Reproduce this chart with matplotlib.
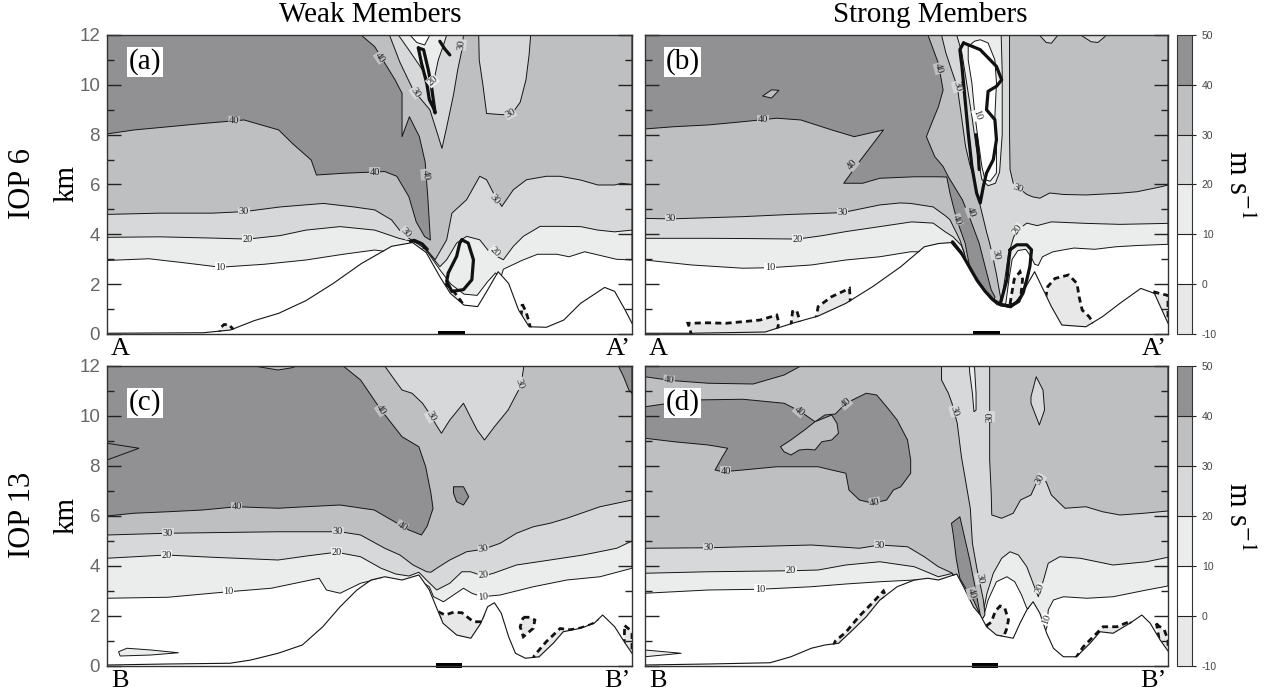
import matplotlib
matplotlib.use("Agg")
import matplotlib.pyplot as plt
import matplotlib as mpl
from matplotlib.patches import Polygon, Rectangle
from matplotlib.colors import ListedColormap, BoundaryNorm

plt.rcParams['font.family'] = ['Liberation Serif', 'DejaVu Serif']
plt.rcParams['mathtext.fontset'] = 'stix'
plt.rcParams['axes.unicode_minus'] = False

# ---------------- colour bands (m s-1) ----------------
LEVELS = [-10, 0, 10, 20, 30, 40, 50]
BAND_COLORS = ['#e8e8e8', '#ffffff', '#ebecec', '#d7d8d9', '#bebfc1', '#919194']
Y_TICKS = [0, 2, 4, 6, 8, 10, 12]
Y_TICK_LABELS = ['0', '2', '4', '6', '8', '10', '12']
Y_MINOR = [1, 3, 5, 7, 9, 11]
COL_TITLES = ['Weak Members', 'Strong Members']
ROW_TITLES = ['IOP 6', 'IOP 13']

# ================= panel (a) : IOP 6 weak =================
A_TERRAIN_X = [0, 18.3, 23.5, 28.1, 32.7, 37.9, 43.1, 48.4, 54.2, 58.2, 60.8, 63.4, 65.4, 68.0, 70.6,
               72.5, 74.5, 76.5, 78.4, 80.4, 83.7, 87.0, 90.2, 94.8, 96.7, 98.7, 100]
A_TERRAIN_Z = [0.03, 0.05, 0.16, 0.54, 0.83, 1.34, 2.03, 2.82, 3.52, 3.67, 3.27, 2.30, 1.63, 1.16, 1.10,
               1.77, 2.50, 2.03, 0.96, 0.29, 0.27, 0.56, 1.23, 1.87, 1.71, 0.96, 0.43]
A_GE10 = [(0, 2.95), (8, 3.02), (15, 2.85), (21.6, 2.68), (30, 2.8), (37.9, 2.97), (45, 3.2), (51, 3.37),
          (53.5, 3.3), (57, 3.35), (59.5, 3.35), (60.5, 3.45), (62, 3.0), (63.5, 2.55), (65.5, 2.0),
          (68, 1.6), (70.5, 1.55), (72.5, 2.1), (74, 2.45), (75, 2.25), (75.5, 2.6), (77, 2.75),
          (79, 2.95), (82, 3.2), (85.7, 3.2), (88, 3.1), (91, 3.3), (94, 3.15), (97, 3.0), (100, 2.97),
          (100, 12), (0, 12)]
A_GE20 = [(0, 3.88), (10, 3.9), (20, 3.85), (26.8, 3.81), (33, 3.95), (37.9, 4.17), (44.4, 4.31),
          (51, 4.17), (55.6, 3.84), (58, 3.72), (59.5, 3.62), (61.5, 3.2), (63.4, 2.7), (64.7, 2.98),
          (66.6, 3.65), (68.5, 3.92), (71.0, 3.78), (73.0, 3.25), (75.5, 2.98), (77.4, 3.52),
          (79.3, 3.92), (82.5, 4.32), (86.3, 4.32), (90.2, 4.31), (93.5, 4.17), (96.7, 4.1),
          (100, 4.17), (100, 12), (0, 12)]
A_GE30 = [(0, 4.8), (10, 4.85), (20, 4.85), (26.1, 4.91), (33, 5.1), (41.2, 5.24), (47, 5.1), (51, 4.98),
          (54.2, 4.58), (56.2, 4.04), (57.5, 3.84), (58.3, 3.74), (60.9, 3.38), (62.5, 2.98),
          (64.7, 3.78), (65.7, 4.85), (68.5, 5.39), (71.0, 6.33), (72.3, 6.19), (73.6, 5.66),
          (75.2, 5.12), (77.4, 5.79), (79.9, 6.19), (83.7, 6.33), (86.3, 6.33), (90.2, 6.18),
          (93.5, 5.98), (96.7, 5.98), (98, 6.05), (100, 6.0), (100, 12), (0, 12)]
A_GE40 = [(0, 12), (48.4, 12), (51, 11.53), (54.9, 10.19), (56.2, 9.66), (56.2, 7.92), (57.6, 8.72),
          (59.5, 7.92), (60.6, 6.9), (61.1, 5.51), (61.6, 3.77), (60.5, 3.91), (58.9, 4.5), (57.5, 5.51),
          (55.2, 6.33), (52.9, 6.52), (45, 6.45), (39.9, 6.38), (38.9, 6.98), (35.3, 7.65), (32.7, 8.19),
          (26.1, 8.59), (18.3, 8.45), (11.8, 8.32), (5.2, 8.19), (0, 8.03)]
A_UPPER_V = [(53.8, 12), (55.8, 10.9), (58.3, 9.8), (61.5, 9.0), (63.0, 8.0), (63.8, 7.45), (64.7, 8.3),
             (66.0, 9.6), (66.8, 10.6), (67.6, 11.4), (67.9, 12)]
A_UPPER_20 = [(55.5, 12), (57.5, 11.4), (60.1, 10.6), (61.4, 10.06), (62.4, 10.3), (63.1, 11.0),
              (64.1, 11.6), (64.7, 12)]
A_UPPER_10 = [(57.7, 12), (59, 11.7), (60.5, 11.6), (61.5, 12)]
A_RIGHT_V = [(70.8, 12), (70.9, 11.0), (71.6, 10.0), (72.3, 8.85), (75.5, 8.8), (77.5, 8.95), (78.7, 9.3),
             (79.8, 10.2), (80.4, 11.2), (80.7, 12)]
A_NEG = [
    [(21.4, -0.1), (21.6, 0.25), (22.3, 0.38), (23.2, 0.38), (24.0, 0.2), (24.2, -0.1)],
    [(64.3, 2.0), (65.5, 1.85), (67.0, 1.45), (67.8, 1.2), (67.5, 0.8), (64.5, 1.4)],
    [(79.1, 1.2), (79.8, 0.9), (80.3, 0.55), (80.7, 0.2), (80.5, 0.0), (78.8, 0.6)],
]
A_THICK = [
    [(59.3, 11.48), (60.3, 11.41), (61.2, 10.6), (61.8, 9.94), (62.5, 8.87), (62.2, 9.07), (61.4, 9.4),
     (60.9, 10.07), (59.9, 10.87), (59.3, 11.48)],
    [(63.4, 11.75), (64.3, 11.45), (65.3, 11.2)],
    [(67.6, 3.78), (68.8, 3.65), (69.8, 2.98), (69.5, 2.18), (67.9, 1.78), (65.7, 1.71), (64.7, 2.11),
     (65.0, 2.45), (66.6, 3.12), (67.2, 3.65), (67.6, 3.78)],
    [(57.8, 3.72), (58.5, 3.76), (60.0, 3.62), (61.0, 3.4)],
]
A_LABELS = [(24.2, 8.55, '40', -2), (51, 6.5, '40', 0), (52, 11.1, '40', -55), (60.7, 6.4, '40', -85),
            (26.1, 4.91, '30', 0), (56.9, 4.06, '30', -45), (58.8, 9.7, '30', -55), (67.5, 11.6, '30', 85),
            (76.8, 8.85, '30', 30), (73.9, 5.4, '30', -50),
            (26.8, 3.81, '20', 0), (62.0, 10.15, '20', 40), (73.9, 3.3, '20', -45),
            (21.6, 2.68, '10', 0)]
A_BAR = (63.1, 68.1)

# ================= panel (b) : IOP 6 strong =================
B_TERRAIN_X = [0, 9, 23, 25.2, 28.5, 33.1, 38.4, 43.6, 48.9, 53.4, 56.1, 58.5, 61.3, 64, 65.9, 67.3, 70,
               72, 74.5, 77.7, 79.7, 84.3, 87.5, 90.8, 94.8, 97.4, 100]
B_TERRAIN_Z = [0.03, 0.03, 0.08, 0.23, 0.45, 0.72, 1.23, 1.91, 2.7, 3.5, 3.63, 3.67, 2.98, 2.05, 1.45,
               1.18, 1.05, 1.6, 2.5, 1.1, 0.36, 0.29, 0.7, 1.23, 1.83, 1.63, 0.43]
B_GE10 = [(0, 2.97), (8.9, 2.77), (18.7, 2.64), (23.9, 2.66), (31.8, 2.77), (38.4, 2.97), (44.9, 3.1),
          (50.8, 3.3), (52.5, 3.3), (56, 3.4), (58.5, 3.45), (61.3, 2.8), (64, 1.85), (67.3, 1.0),
          (68.6, 1.0), (69.0, 1.25), (69.6, 2.2), (70.2, 3.0), (71.3, 3.35), (72.8, 3.4), (73.8, 3.1),
          (74.5, 2.8), (75.2, 2.75), (76, 3.1), (78, 3.3), (82, 3.45), (86, 3.4), (90, 3.5), (94, 3.55),
          (100, 3.6), (100, 12), (0, 12)]
B_GE20 = [(0, 3.84), (12, 3.84), (20, 3.83), (29.2, 3.81), (34, 3.95), (38.4, 4.11), (44.9, 4.31),
          (51, 4.5), (55.1, 4.45), (57.4, 4.1), (58.9, 3.9), (60.5, 3.55), (61.3, 3.1), (62, 2.5),
          (64, 1.85), (67.3, 1.0), (68.0, 1.0), (68.2, 1.4), (68.8, 2.2), (69.5, 3.2), (70.5, 3.9),
          (71.4, 4.19), (73, 4.45), (75, 4.35), (77.7, 4.5), (84.3, 4.44), (90.8, 4.4), (100, 4.44),
          (100, 12), (0, 12)]
B_GE30_L = [(0, 4.64), (4.9, 4.62), (18.7, 4.71), (28, 4.8), (37.7, 4.87), (44.9, 5.18), (48.8, 5.26),
            (50.8, 5.24), (55.1, 5.1), (57.4, 4.75), (58.3, 4.59), (60.2, 3.78), (61, 3.3), (61.5, 2.85),
            (62, 2.5), (64, 1.8), (66, 1.2), (67.6, 1.0), (68, 1.45), (67.7, 1.8), (67.2, 2.4),
            (66.6, 3.0), (65.9, 3.64), (65.3, 4.1), (64.6, 4.71), (63.8, 5.4), (63.0, 6.18), (62.1, 6.8),
            (61.3, 7.52), (60.4, 8.9), (59.7, 9.93), (58.6, 10.6), (57.5, 11.3), (56.7, 12), (0, 12)]
B_GE30_R = [(69.7, 12), (69.7, 8), (69.8, 6.6), (70.4, 6.06), (71.5, 5.85), (73, 5.6), (74.2, 5.5),
            (75.5, 5.45), (77.4, 5.66), (80, 5.6), (84.3, 5.58), (90.8, 5.65), (94.1, 5.71),
            (98.7, 5.91), (100, 5.98), (100, 12)]
B_GE40 = [(0, 12), (54.1, 12), (56.1, 10.86), (57.0, 9.79), (56.1, 9.12), (54.8, 8.45), (53.8, 7.92),
          (55.4, 7.12), (57.0, 6.72), (58.0, 6.31), (60.7, 5.38), (62.0, 4.71), (63.9, 3.64),
          (65.2, 2.57), (66.2, 1.77), (66.9, 1.5), (66.6, 1.1), (64, 1.75), (62.3, 2.45), (61.2, 3.65),
          (59.6, 4.59), (58.3, 5.66), (57.7, 6.3), (56.1, 6.31), (51.5, 6.31), (44.9, 6.25),
          (41.6, 6.05), (38.0, 6.05), (41.0, 6.92), (45.6, 8.19), (40, 7.92), (35.7, 8.19),
          (29.8, 8.59), (25.2, 8.66), (18.7, 8.52), (12.1, 8.39), (5.6, 8.32), (0, 8.23)]
B_SLIVER = [(22.5, 9.55), (24.2, 9.8), (25.6, 9.78), (24.2, 9.47)]
B_COL_20 = [(59.6, 12), (60.6, 11.28), (61.5, 10.07), (62.5, 8.74), (63.4, 7.4), (64.4, 6.2), (65.6, 5.95),
            (67.0, 6.05), (67.8, 6.5), (68.3, 8), (68.3, 10.5), (68.1, 12)]
B_COL_10 = [(61.8, 11.54), (63.0, 11.75), (64.1, 11.81), (65.6, 11.68), (66.9, 11.0), (67.2, 10.07),
            (66.9, 8.74), (67.2, 7.4), (67.2, 6.46), (66.0, 6.13), (65.0, 6.2), (64.4, 6.73), (63.7, 7.8),
            (63.1, 8.74), (62.5, 10.07), (61.8, 11.0)]
B_BUMP_1 = [(75.4, 12), (76.7, 11.7), (77.7, 11.67), (78.7, 11.93), (79, 12)]
B_BUMP_2 = [(83.3, 12), (85.3, 11.73), (86.6, 11.7), (87.9, 11.93), (88.2, 12)]
B_NEG = [
    [(8.9, -0.1), (8.6, 0.2), (8.2, 0.43), (12, 0.45), (15.4, 0.43), (19, 0.5), (22, 0.56), (25.2, 0.76),
     (25.6, 0.45), (25.2, 0.1), (25, -0.1)],
    [(27.9, 0.3), (28.2, 0.9), (29, 0.95), (29.5, 0.6), (29.7, 0.3)],
    [(32.6, 0.5), (33.1, 1.1), (35.7, 1.5), (39.1, 1.83), (39.3, 1.2), (38.5, 0.9)],
    [(69.8, 1.2), (70.1, 1.6), (70.6, 2.2), (71.7, 2.5), (72.2, 2.2), (71.8, 1.4), (71, 1.1)],
    [(76.6, 1.45), (77, 1.9), (78.4, 2.23), (81, 2.37), (82.6, 2.03), (83, 1.5), (83.6, 0.96),
     (84.9, 0.7), (85.7, 0.45), (85.8, 0.1), (77.5, 0.1)],
    [(97.2, 1.7), (98.5, 1.62), (100, 1.55), (100, 0.2), (98, 1.0)],
]
B_THICK = [
    [(60.9, 11.68), (62.5, 11.55), (64.1, 11.41), (67.2, 10.74), (68.2, 10.2), (67.2, 9.94), (65.6, 9.74),
     (65.3, 9.0), (66.9, 8.6), (67.2, 7.8), (66.6, 7.0), (65.3, 6.46), (64.7, 5.93), (64.1, 5.26),
     (63.4, 5.66), (62.5, 6.73), (61.8, 8.07), (61.2, 9.4), (60.6, 10.74), (60.2, 11.41), (60.9, 11.68)],
    [(63.3, 8.0), (63.7, 7.3), (63.9, 6.6)],
    [(69.8, 3.38), (71.1, 3.58), (73.0, 3.58), (73.9, 3.38), (73.6, 2.72), (73.0, 2.18), (72.3, 1.65),
     (71.4, 1.31), (69.8, 1.11), (67.9, 1.18), (69.2, 2.18), (69.5, 2.85), (69.8, 3.38)],
    [(58.8, 3.7), (60.5, 3.25), (62, 2.7), (63.5, 2.15), (65, 1.72), (66.5, 1.38), (68, 1.18), (70, 1.12),
     (71.5, 1.32)],
]
B_LABELS = [(22.6, 8.59, '40', 0), (39.7, 6.8, '40', 50), (56.2, 10.66, '40', -75),
            (4.9, 4.62, '30', 0), (37.7, 4.87, '30', 0), (59.7, 9.93, '30', -75),
            (59.7, 4.58, '40', -70), (62.3, 4.91, '40', -70), (67.0, 3.2, '30', -80),
            (63.6, 8.79, '10', -70), (71.3, 5.85, '30', -20), (71.2, 4.2, '20', 55),
            (29.2, 3.81, '20', 0), (23.9, 2.66, '10', 0)]
B_BAR = (62.8, 67.8)

# ================= panel (c) : IOP 13 weak =================
C_TERRAIN_X = [0, 11.6, 23.4, 27.4, 32.6, 37.2, 41.1, 44.4, 47.6, 50.3, 52.9, 56.2, 59.4, 61.4, 62.7, 64.0,
               66.6, 69.3, 71.2, 72.5, 73.8, 75.1, 76.5, 77.8, 79.7, 82.3, 85.0, 86.9, 90.2, 92.8, 94.4,
               96.7, 98.7, 100]
C_TERRAIN_Z = [0.04, 0.08, 0.11, 0.24, 0.51, 0.84, 1.57, 2.37, 3.04, 3.44, 3.57, 3.44, 3.64, 3.04, 2.37,
               1.71, 1.24, 1.11, 1.71, 2.37, 2.53, 2.11, 1.17, 0.51, 0.31, 0.37, 0.91, 1.37, 1.51, 1.71,
               2.04, 1.57, 0.91, 0.51]
C_GE10 = [(0, 2.71), (11.6, 2.75), (23.1, 2.97), (31.3, 3.11), (40.4, 3.51), (41.8, 3.04), (44.4, 2.91),
          (48.3, 3.31), (52.2, 3.51), (53.5, 3.45), (56.2, 3.3), (59.4, 3.45), (60.4, 3.3), (61.4, 3.17),
          (62.2, 2.77), (64.1, 2.57), (66.0, 2.84), (67.9, 3.11), (69.5, 2.91), (71.4, 2.77),
          (74.9, 2.84), (81.2, 3.17), (87.6, 3.44), (93.9, 3.57), (100, 3.91), (100, 12), (0, 12)]
C_GE20 = [(0, 4.31), (11.3, 4.44), (20, 4.35), (32.6, 4.24), (38, 4.4), (43.7, 4.55), (48.3, 4.37),
          (52.2, 3.91), (55, 3.68), (57.5, 3.6), (59.4, 3.75), (60.8, 3.45), (62.8, 3.04), (65.3, 3.31),
          (67.6, 3.77), (69.2, 3.77), (71.7, 3.6), (73.6, 3.71), (78.0, 4.04), (84.4, 4.24),
          (90.7, 4.44), (97.1, 4.71), (100, 5.0), (100, 12), (0, 12)]
C_GE30 = [(0, 5.24), (11.6, 5.31), (32.6, 5.37), (44.4, 5.37), (48.3, 5.24), (52.9, 4.71), (55.8, 4.44),
          (58.3, 4.04), (60.9, 3.77), (61.7, 3.75), (62.8, 3.91), (65.3, 4.24), (68.5, 4.57),
          (71.7, 4.67), (74.9, 4.91), (78.0, 5.31), (81.2, 5.57), (84.4, 5.71), (87.6, 5.91),
          (93.9, 6.37), (100, 6.64), (100, 12), (0, 12)]
C_GE40 = [(0, 12), (28, 12), (32.6, 11.84), (35.2, 11.93), (36.2, 12), (45.0, 12), (48.3, 11.44),
          (52.2, 10.24), (56.2, 9.17), (59.4, 8.77), (60.7, 7.97), (61.7, 6.91), (62.1, 6.3),
          (61.0, 5.6), (59.9, 5.24), (57.5, 5.44), (54.2, 5.84), (50.9, 6.24), (44.4, 6.44),
          (37.8, 6.37), (32.6, 6.31), (24.7, 6.37), (18.2, 6.24), (11.6, 6.17), (5.1, 6.11), (0, 6.0)]
C_UPPER_V = [(52.9, 12), (54.8, 11.44), (56.2, 11.04), (58.1, 10.91), (60.1, 10.51), (61.4, 10.11),
             (62.7, 9.64), (63.7, 9.31), (65.3, 9.84), (67.9, 10.51), (69.2, 9.97), (70.5, 9.44),
             (71.9, 9.04), (73.8, 9.57), (76.4, 10.24), (78.4, 11.04), (79.1, 11.57), (79.4, 12)]
C_BLOB = [(66.0, 7.17), (67.9, 7.17), (68.9, 6.77), (67.9, 6.44), (66.6, 6.57), (66.0, 6.91)]
C_CORNER = [(97.4, 12), (98.4, 11.57), (99.4, 11.04), (100, 10.9), (100, 12)]
C_WEDGE = [(0, 8.91), (6.1, 8.71), (0, 8.24)]
C_LENS = [(2.2, 0.57), (3.8, 0.71), (8.4, 0.64), (13.6, 0.53), (8.4, 0.44), (2.5, 0.4)]
C_NEG = [
    [(63.1, 2.17), (64.4, 2.04), (66.0, 2.15), (67.6, 2.13), (69.8, 1.77), (71.7, 1.77), (72.3, 2.1),
     (72.5, 1.6), (69, 0.9), (64, 1.5)],
    [(79.3, 1.95), (80.5, 1.95), (81.5, 1.84), (81.2, 1.51), (79.3, 1.17), (78.7, 1.57)],
    [(81.0, 0.2), (81.4, 0.42), (83.7, 0.98), (86.3, 1.5), (88.2, 1.45), (90.2, 1.52), (92.1, 1.65),
     (93.5, 1.8), (93.7, 1.6), (90, 1.2), (84, 0.4)],
    [(98.6, 1.62), (99.3, 1.5), (100, 1.3), (100, 0.3), (98.5, 0.8)],
]
C_LABELS = [(24.7, 6.37, '40', 0), (52.2, 10.24, '40', -55), (56.2, 5.6, '40', -30),
            (11.6, 5.31, '30', 0), (44.0, 5.37, '30', 0), (61.7, 9.98, '30', -60), (78.6, 11.3, '30', -70),
            (71.7, 4.67, '30', 8),
            (11.3, 4.44, '20', 0), (43.7, 4.55, '20', 0), (71.7, 3.62, '20', 5),
            (23.1, 2.97, '10', 0), (71.6, 2.77, '10', 5)]
C_BAR = (62.6, 67.6)

# ================= panel (d) : IOP 13 strong =================
D_TERRAIN_X = [0, 12.1, 23.9, 27.9, 31.8, 34.4, 37.0, 39.7, 42.3, 44.9, 48.2, 51.5, 54.1, 56.1, 59.6, 60.9,
               62.8, 64.1, 65.3, 67.2, 70.4, 71.7, 73.0, 74.2, 75.5, 76.8, 78.1, 80.0, 82.5, 85.1, 87.0,
               89.5, 92.7, 95.0, 96.6, 98.5, 100]
D_TERRAIN_Z = [0.04, 0.08, 0.13, 0.37, 0.71, 0.84, 0.91, 1.44, 1.97, 2.64, 3.17, 3.44, 3.51, 3.44, 3.68,
               3.17, 2.37, 2.04, 1.57, 1.24, 1.11, 1.71, 2.24, 2.57, 2.11, 1.31, 0.71, 0.37, 0.37, 0.91,
               1.37, 1.31, 1.71, 2.04, 1.71, 1.04, 0.6]
D_GE10 = [(0, 2.91), (12.1, 3.04), (22, 3.07), (31.8, 3.17), (38.4, 3.28), (44.9, 3.37), (51.5, 3.44),
          (53.5, 3.4), (57, 3.3), (59.5, 3.5), (61, 3.0), (62.8, 2.2), (64.2, 1.85), (64.7, 1.95),
          (65.6, 2.64), (67.2, 3.37), (69.2, 3.57), (70.7, 3.37), (72.0, 2.84), (73.0, 2.31),
          (73.5, 2.3), (75, 2.1), (76.5, 1.35), (76.9, 1.6), (77.1, 2.24), (78.1, 2.64), (80, 2.77),
          (84.5, 2.71), (89.5, 2.77), (95.9, 3.04), (100, 3.2), (100, 12), (0, 12)]
D_GE20 = [(0, 3.71), (12.1, 3.77), (27.9, 3.81), (33.1, 3.84), (38.4, 4.04), (44.9, 4.17), (51.5, 3.97),
          (56.1, 3.57), (58.7, 3.7), (60, 3.35), (61.5, 2.8), (63, 2.2), (64.4, 1.85), (64.8, 2.3),
          (65.4, 2.91), (66.6, 3.71), (68.2, 4.31), (69.8, 4.57), (71.4, 4.44), (73.0, 3.97),
          (74.2, 3.31), (75.2, 2.77), (76.2, 3.44), (77.1, 4.11), (79.3, 4.37), (83.2, 4.31),
          (89.5, 4.04), (95.9, 4.17), (100, 4.35), (100, 12), (0, 12)]
D_GE30_L = [(0, 4.71), (12.1, 4.73), (31.8, 4.84), (41, 4.71), (44.9, 4.84), (50.2, 4.77), (53.4, 4.37),
            (56.1, 3.97), (58.7, 3.72), (60, 3.35), (61.5, 2.8), (63, 2.2), (64.4, 1.85), (65.0, 2.04),
            (64.7, 2.64), (63.4, 3.97), (62.6, 4.91), (62.2, 6.3), (61.6, 7.04), (60.5, 8.37),
            (59.7, 9.71), (58.7, 10.51), (58.0, 10.91), (56.7, 11.44), (56.7, 12), (0, 12)]
D_GE30_R = [(65.9, 12), (65.9, 10.91), (65.9, 9.57), (65.9, 8.24), (66.2, 6.91), (66.3, 6.04), (68.2, 5.91),
            (70.4, 6.11), (71.8, 6.64), (73.8, 6.84), (75.1, 7.44), (76.7, 7.37), (77.7, 6.84),
            (80.3, 6.31), (84.3, 6.37), (87.5, 6.17), (90.8, 6.04), (95.4, 6.11), (97.4, 6.15),
            (100, 6.2), (100, 12)]
D_GE40_TOP = [(0, 12), (29.8, 12), (26.6, 11.64), (20.7, 11.28), (12.1, 11.31), (5, 11.42), (0, 11.57)]
D_GE40_BIG = [(0, 10.37), (8.9, 10.64), (18.7, 10.67), (26.6, 10.51), (29.8, 10.17), (32.5, 9.77),
              (34.4, 10.04), (36.4, 10.08), (38.4, 10.51), (42.3, 10.91), (44.3, 10.84), (46.2, 10.37),
              (48.2, 9.84), (50.2, 9.04), (50.8, 8.24), (50.8, 7.71), (48.9, 7.17), (47.5, 7.04),
              (46.2, 6.64), (43.6, 6.51), (41.0, 6.64), (39.0, 7.04), (38.4, 7.71), (35.7, 7.84),
              (33.1, 7.97), (30.5, 7.97), (25.2, 7.97), (18.7, 7.84), (14.8, 7.77), (13.4, 7.84),
              (14.8, 8.37), (15.8, 8.71), (12.1, 8.84), (5.6, 8.97), (0, 9.11)]
D_POCKET = [(25.9, 8.77), (27.9, 9.04), (30.5, 9.44), (32.5, 9.77), (35.7, 10.04), (36.7, 9.71),
            (37.0, 9.31), (35.7, 9.04), (33.8, 8.97), (32.5, 8.64), (31.1, 8.67), (29.5, 8.64),
            (27.9, 8.44), (26.6, 8.57)]
D_SLIVER40 = [(58.6, 5.71), (60.2, 5.97), (62.1, 4.24), (63.1, 3.17), (64.1, 2.04), (62.8, 2.64),
              (61.5, 3.04), (60.2, 3.51), (59.5, 4.3), (59.0, 5.17)]
D_COL_SLIVER = [(62.0, 12), (63.0, 11.97), (63.3, 10.91), (63.3, 10.24), (62.9, 10.17), (62.6, 10.91),
                (62.1, 11.71)]
D_DIAMOND = [(74.8, 11.57), (76.1, 11.04), (76.4, 10.24), (75.4, 9.64), (73.8, 10.51), (73.8, 10.77)]
D_WEDGE = [(0, 0.64), (6.9, 0.51), (0, 0.37)]
D_NEG = [
    [(36.0, 0.8), (36.4, 1.0), (38.4, 1.35), (41, 2.0), (43.6, 2.55), (45.6, 3.0), (46, 2.8), (44, 2.2),
     (40, 1.3), (37, 0.8)],
    [(65.2, 1.6), (66.2, 1.75), (67.0, 2.2), (67.9, 2.4), (68.8, 2.31), (69.5, 1.84), (69.1, 1.45),
     (68.5, 1.15), (66, 1.2)],
    [(82.3, 0.3), (83.8, 0.77), (85.7, 1.17), (87.6, 1.57), (90.2, 1.57), (92.0, 1.72), (92.9, 1.8),
     (93.0, 1.5), (89, 1.1), (84, 0.35)],
    [(97.8, 1.7), (98, 1.64), (99.3, 1.44), (100, 1.04), (100, 0.3), (98.5, 0.8)],
]
D_LABELS = [(4.6, 11.44, '40', -5), (29.5, 10.2, '40', -40), (38.4, 10.51, '40', 40), (15.4, 7.8, '40', 0),
            (43.9, 6.55, '40', 10),
            (12.1, 4.73, '30', 0), (44.9, 4.84, '30', 0), (59.2, 10.2, '30', -75), (65.9, 9.97, '30', 90),
            (75.6, 7.45, '30', 60), (64.1, 3.5, '30', -80), (62.5, 2.91, '40', -75),
            (27.9, 3.81, '20', 0), (75.6, 3.1, '20', 70),
            (22, 3.07, '10', 0), (76.8, 1.85, '10', 70)]
D_BAR = (62.6, 67.5)


def band_color(level):
    return BAND_COLORS[LEVELS.index(level)]


W, H = 1267, 693
fig = plt.figure(figsize=(W / 100, H / 100), dpi=100)


def axes_px(x0, x1, ytop, ybot):
    return fig.add_axes([x0 / W, 1 - ybot / H, (x1 - x0) / W, (ybot - ytop) / H])


def style_axes(ax, labels_on):
    ax.set_xlim(0, 100)
    ax.set_ylim(0, 12)
    ax.set_xticks([])
    ax.set_yticks(Y_TICKS)
    ax.set_yticks(Y_MINOR, minor=True)
    ax.set_yticklabels(Y_TICK_LABELS, family='Liberation Sans', fontsize=13.5, color='#666666')
    ax.tick_params(axis='y', which='major', direction='in', length=10, width=1.0,
                   left=True, right=True, color='#222222', pad=5, labelleft=labels_on)
    ax.tick_params(axis='y', which='minor', direction='in', length=5, width=1.0,
                   left=True, right=True, color='#222222')
    for s in ax.spines.values():
        s.set_linewidth(1.0)
        s.set_color('#333333')


def draw_panel(ax, tx, tz, regions, outlines, negs, thick, labels, bar, tag, tag_y, ends, labels_on):
    style_axes(ax, labels_on)
    for lev, poly in regions:
        ax.add_patch(Polygon(poly, closed=True, facecolor=band_color(lev), edgecolor='#151515',
                             lw=0.7, joinstyle='round', zorder=1.0))
    for poly in outlines:
        ax.add_patch(Polygon(poly, closed=True, fill=False, edgecolor='#151515', lw=0.7, zorder=1.05))
    for poly in negs:
        ax.add_patch(Polygon(poly, closed=True, facecolor=band_color(-10), edgecolor='none', zorder=1.1))
        ax.add_patch(Polygon(poly, closed=True, fill=False, edgecolor='#111111', lw=2.0,
                             linestyle=(0, (2.2, 1.5)), zorder=1.15))
    ax.fill_between(tx, -1, tz, color='white', lw=0, zorder=1.3)
    ax.plot(tx, tz, color='#151515', lw=0.8, zorder=1.4)
    for line in thick:
        xs = [p[0] for p in line]
        zs = [p[1] for p in line]
        ax.plot(xs, zs, color='#111111', lw=2.3, solid_joinstyle='round', solid_capstyle='round',
                zorder=1.6)
    for x, z, t, rot in labels:
        ax.text(x, z, t, rotation=rot, ha='center', va='center', fontsize=7.5, color='#222222',
                rotation_mode='anchor', zorder=1.8,
                bbox=dict(boxstyle='square,pad=0.05', fc=band_color(int(t) - 10), ec='none'))
    ax.add_patch(Rectangle((bar[0], -0.06), bar[1] - bar[0], 0.2, facecolor='black', edgecolor='none',
                           clip_on=False, zorder=2.0))
    ax.text(0.0724, tag_y, tag, transform=ax.transAxes, ha='center', va='center', fontsize=21,
            zorder=5, bbox=dict(boxstyle='square,pad=0.05', fc='white', ec='none'))
    ax.text(0.008, -0.012, ends[0], transform=ax.transAxes, ha='left', va='top', fontsize=19)
    ax.text(0.998, -0.012, ends[1], transform=ax.transAxes, ha='right', va='top', fontsize=19)


ax_a = axes_px(107, 632, 35, 334)
ax_b = axes_px(645, 1168, 35, 334)
ax_c = axes_px(107, 632, 366, 666)
ax_d = axes_px(645, 1168, 366, 666)

draw_panel(ax_a, A_TERRAIN_X, A_TERRAIN_Z,
           [(10, A_GE10), (20, A_GE20), (30, A_GE30), (40, A_GE40), (20, A_UPPER_V), (10, A_UPPER_20),
            (0, A_UPPER_10), (20, A_RIGHT_V)],
           [], A_NEG, A_THICK, A_LABELS, A_BAR, '(a)', 0.911, ('A', 'A\u2019'), True)
draw_panel(ax_b, B_TERRAIN_X, B_TERRAIN_Z,
           [(10, B_GE10), (20, B_GE20), (30, B_GE30_L), (30, B_GE30_R), (40, B_GE40), (30, B_SLIVER),
            (10, B_COL_20), (0, B_COL_10), (20, B_BUMP_1), (20, B_BUMP_2)],
           [], B_NEG, B_THICK, B_LABELS, B_BAR, '(b)', 0.911, ('A', 'A\u2019'), False)
draw_panel(ax_c, C_TERRAIN_X, C_TERRAIN_Z,
           [(10, C_GE10), (20, C_GE20), (30, C_GE30), (40, C_GE40), (20, C_UPPER_V), (40, C_BLOB),
            (40, C_CORNER), (10, C_LENS)],
           [C_WEDGE], C_NEG, [], C_LABELS, C_BAR, '(c)', 0.877, ('B', 'B\u2019'), True)
draw_panel(ax_d, D_TERRAIN_X, D_TERRAIN_Z,
           [(10, D_GE10), (20, D_GE20), (30, D_GE30_L), (30, D_GE30_R), (40, D_GE40_TOP),
            (40, D_GE40_BIG), (30, D_POCKET), (40, D_SLIVER40), (10, D_COL_SLIVER), (20, D_DIAMOND),
            (10, D_WEDGE)],
           [], D_NEG, [], D_LABELS, D_BAR, '(d)', 0.877, ('B', 'B\u2019'), False)

# colour bars
cmap = ListedColormap(BAND_COLORS)
norm = BoundaryNorm(LEVELS, cmap.N)
for ytop, ybot in [(35, 334), (366, 666)]:
    cax = axes_px(1177, 1192, ytop, ybot)
    cb = fig.colorbar(mpl.cm.ScalarMappable(norm=norm, cmap=cmap), cax=cax, ticks=LEVELS,
                      drawedges=True)
    cb.outline.set_linewidth(0.8)
    cb.outline.set_edgecolor('#333333')
    cb.dividers.set_linewidth(0.8)
    cb.dividers.set_color('#222222')
    cax.tick_params(length=3, width=0.8, color='#222222', pad=4)
    cax.set_yticklabels([str(v) for v in LEVELS], family='Liberation Sans', fontsize=7.5, color='#444444')
    yc = 1 - (ytop + ybot) / 2 / H
    fig.text(1237 / W, yc, r'm s$^{-1}$', rotation=-90, ha='center', va='center', fontsize=22)

# titles
fig.text(370 / W, 1 - 15 / H, COL_TITLES[0], ha='center', va='center', fontsize=21)
fig.text(930 / W, 1 - 15 / H, COL_TITLES[1], ha='center', va='center', fontsize=21)
for title, yc in zip(ROW_TITLES, [184, 515]):
    fig.text(23 / W, 1 - yc / H, title, rotation=90, ha='center', va='center', fontsize=22)
    fig.text(66 / W, 1 - yc / H, 'km', rotation=90, ha='center', va='center', fontsize=21)

fig.savefig('out.png', dpi=100)
